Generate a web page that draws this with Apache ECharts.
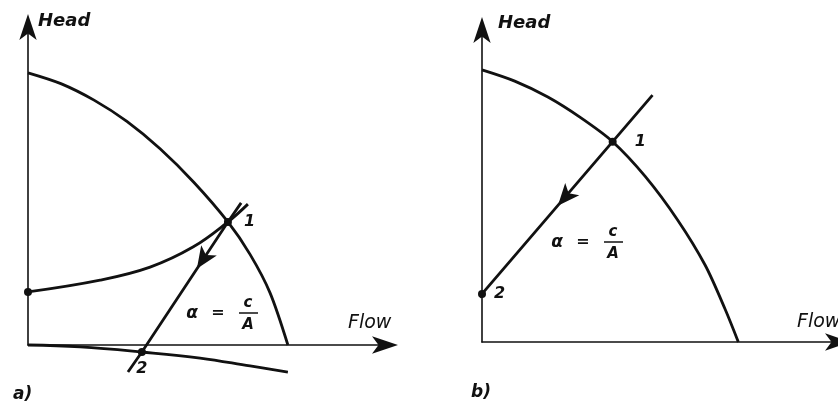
<!DOCTYPE html>
<html>
<head>
<meta charset="utf-8">
<script src="https://cdn.jsdelivr.net/npm/echarts@6/dist/echarts.min.js"></script>
<style>
  html, body { margin: 0; padding: 0; background: #fff; }
  #main { width: 838px; height: 405px; }
</style>
</head>
<body>
<div id="main"></div>
<script>
// panel a) - pump curve, system curve, lower curve, operating line
const aPumpX = [0, 9.2, 18.5, 27.7, 37.0, 46.5, 56.0, 62.2, 67.8, 72.8];
const aPumpY = [85.6, 82.2, 77.0, 70.3, 61.7, 51.1, 38.7, 28.5, 16.4, 0];
const aSysX = [0, 20.2, 34.2, 46.2, 56.0, 61.6];
const aSysY = [16.7, 20.4, 24.5, 30.8, 38.7, 44.3];
const aLowX = [0, 14.6, 31.9, 48.2, 62.2, 72.8];
const aLowY = [0, -0.6, -2.2, -4.1, -6.6, -8.5];
const aLineX = [59.7, 56.0, 31.9, 28.0];
const aLineY = [44.7, 38.7, -2.2, -8.5];
const aPoints = [[56.0, 38.7, '1'], [31.9, -2.2, '2']];
const aStart = [0, 16.7];
const aArrow = [47.3, 24.0];

// panel b)
const bPumpX = [0, 9.2, 18.5, 27.7, 36.7, 45.9, 54.9, 62.7, 68.3, 72.0];
const bPumpY = [87.2, 83.6, 78.5, 71.9, 64.2, 53.0, 39.2, 24.6, 10.5, 0];
const bLineX = [47.9, 36.7, 0, -7.3];
const bLineY = [79.1, 64.2, 15.4, 5.7];
const bPoints = [[36.7, 64.2, '1'], [0, 15.4, '2']];
const bArrow = [21.3, 43.7];

const zip = (xs, ys) => xs.map((x, i) => [x, ys[i]]);
const ink = '#111';

function axis(gridIndex) {
  return {
    type: 'value', gridIndex: gridIndex, min: 0, max: 100,
    axisLine: { show: true, symbol: ['none', 'arrow'], symbolSize: [13, 26], symbolOffset: [0, 13],
      lineStyle: { color: ink, width: 1.6 } },
    axisTick: { show: false }, axisLabel: { show: false }, splitLine: { show: false }
  };
}

function curve(idx, data, smooth) {
  return {
    type: 'line', xAxisIndex: idx, yAxisIndex: idx, data: data,
    showSymbol: false, smooth: smooth, clip: false,
    lineStyle: { color: ink, width: 2.8 }, silent: true
  };
}

function dots(idx, pts, labelPos) {
  return {
    type: 'scatter', xAxisIndex: idx, yAxisIndex: idx, clip: false, silent: true,
    symbolSize: 8, itemStyle: { color: ink, opacity: 1 },
    data: pts.map((p, i) => ({
      value: [p[0], p[1]],
      label: { show: true, formatter: p[2], position: labelPos[i].pos, distance: labelPos[i].d,
        color: ink, fontSize: 16, fontStyle: 'italic', fontWeight: 'bold', fontFamily: 'DejaVu Sans' }
    }))
  };
}

function arrowMark(idx, pos, rot) {
  return {
    type: 'scatter', xAxisIndex: idx, yAxisIndex: idx, clip: false, silent: true,
    symbol: 'arrow', symbolSize: [14, 22], symbolRotate: rot,
    itemStyle: { color: ink, opacity: 1 }, data: [pos]
  };
}

function formula(x, y) {
  const f = 'italic bold 15px "DejaVu Sans"';
  return [
    { type: 'text', x: x, y: y, style: { text: 'α', font: 'italic bold 17px "DejaVu Sans"', fill: ink, textAlign: 'center', textVerticalAlign: 'middle' } },
    { type: 'text', x: x + 26, y: y - 1, style: { text: '=', font: 'bold 16px "DejaVu Sans"', fill: ink, textAlign: 'center', textVerticalAlign: 'middle' } },
    { type: 'text', x: x + 56, y: y - 11, style: { text: 'c', font: f, fill: ink, textAlign: 'center', textVerticalAlign: 'middle' } },
    { type: 'line', shape: { x1: x + 47, y1: y - 1, x2: x + 66, y2: y - 1 }, style: { stroke: ink, lineWidth: 1.5 } },
    { type: 'text', x: x + 56, y: y + 11, style: { text: 'A', font: f, fill: ink, textAlign: 'center', textVerticalAlign: 'middle' } }
  ];
}

const chart = echarts.init(document.getElementById('main'));
chart.setOption({
  animation: false,
  backgroundColor: '#fff',
  grid: [
    { left: 28, top: 27, width: 357, height: 318 },
    { left: 482, top: 30, width: 357, height: 312 }
  ],
  xAxis: [axis(0), axis(1)],
  yAxis: [axis(0), axis(1)],
  series: [
    curve(0, zip(aPumpX, aPumpY), 0.3),
    curve(0, zip(aSysX, aSysY), 0.4),
    curve(0, zip(aLowX, aLowY), 0.4),
    curve(0, zip(aLineX, aLineY), false),
    dots(0, aPoints, [{ pos: 'right', d: 12 }, { pos: 'bottom', d: 5 }]),
    { type: 'scatter', xAxisIndex: 0, yAxisIndex: 0, clip: false, silent: true, symbolSize: 8,
      itemStyle: { color: ink, opacity: 1 }, data: [aStart] },
    arrowMark(0, aArrow, 146.5),
    curve(1, zip(bPumpX, bPumpY), 0.3),
    curve(1, zip(bLineX, bLineY), false),
    dots(1, bPoints, [{ pos: 'right', d: 18 }, { pos: 'right', d: 8 }]),
    arrowMark(1, bArrow, 139)
  ],
  graphic: [
    { type: 'text', x: 38, y: 21, style: { text: 'Head', font: 'italic bold 18px "DejaVu Sans"', fill: ink, textAlign: 'left', textVerticalAlign: 'middle' } },
    { type: 'text', x: 498, y: 23, style: { text: 'Head', font: 'italic bold 18px "DejaVu Sans"', fill: ink, textAlign: 'left', textVerticalAlign: 'middle' } },
    { type: 'text', x: 348, y: 323, style: { text: 'Flow', font: 'italic 19px "DejaVu Sans"', fill: ink, textAlign: 'left', textVerticalAlign: 'middle' } },
    { type: 'text', x: 797, y: 322, style: { text: 'Flow', font: 'italic 19px "DejaVu Sans"', fill: ink, textAlign: 'left', textVerticalAlign: 'middle' } },
    { type: 'text', x: 13, y: 395, style: { text: 'a)', font: 'italic bold 17px "DejaVu Sans"', fill: ink, textAlign: 'left', textVerticalAlign: 'middle' } },
    { type: 'text', x: 471, y: 393, style: { text: 'b)', font: 'italic bold 17px "DejaVu Sans"', fill: ink, textAlign: 'left', textVerticalAlign: 'middle' } }
  ].concat(formula(192, 314), formula(557, 243))
});
</script>
</body>
</html>
